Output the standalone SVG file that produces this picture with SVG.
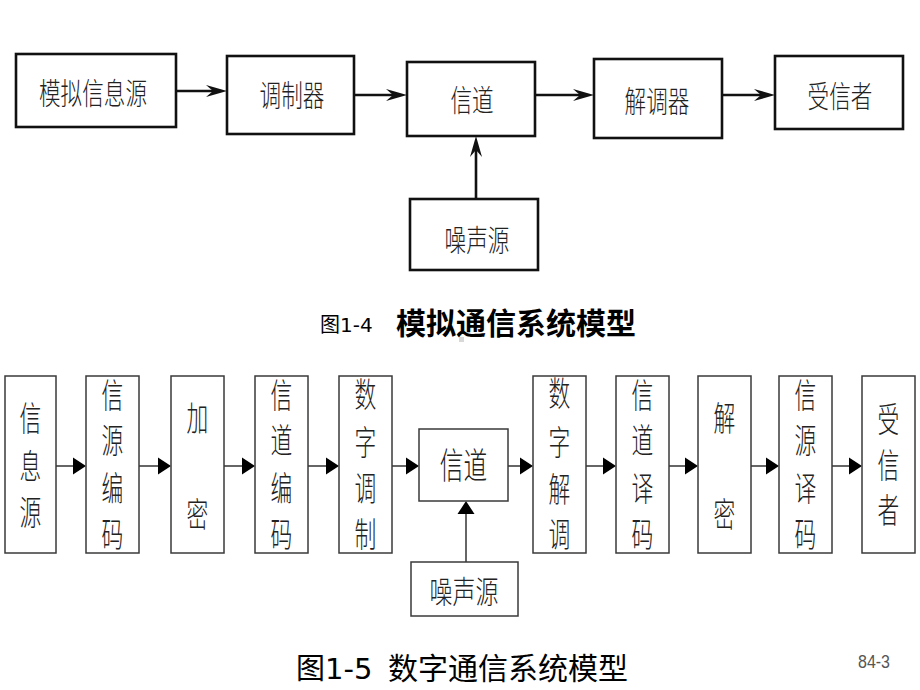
<svg xmlns="http://www.w3.org/2000/svg" width="920" height="690" viewBox="0 0 920 690">
<defs>
<style>
.b1{fill:#fff;stroke:#111;stroke-width:2.6}
.b2{fill:#fff;stroke:#3a3a3a;stroke-width:1.5}
.c1{fill:none;stroke:#111;stroke-width:2.6}
.c2{fill:none;stroke:#333;stroke-width:1.5}
.t{font-family:"Noto Sans CJK SC","Noto Sans CJK JP",sans-serif;font-weight:300;fill:#222;text-anchor:middle;dominant-baseline:central}
.t1{font-size:30px}
.t2{font-size:34px}
.cap{font-family:"DejaVu Sans","Noto Sans CJK SC",sans-serif;fill:#000}
</style>
<marker id="ah1" markerUnits="userSpaceOnUse" viewBox="-22 -8 24 16" markerWidth="24" markerHeight="16" refX="-12" refY="0" orient="auto">
<path d="M0,0 L-21,-6 L-14,0 L-21,6 Z" fill="#111"/>
</marker>
<marker id="ah2" markerUnits="userSpaceOnUse" viewBox="-14 -9 16 18" markerWidth="16" markerHeight="18" refX="-11" refY="0" orient="auto">
<path d="M0,0 L-13,-8.5 L-13,8.5 Z" fill="#000"/>
</marker>
</defs>
<rect width="920" height="690" fill="#fff"/>

<g id="connectors">
<path class="c1" d="M176,91 H215" marker-end="url(#ah1)"/>
<path class="c1" d="M354,95 H395" marker-end="url(#ah1)"/>
<path class="c1" d="M535,95 H582" marker-end="url(#ah1)"/>
<path class="c1" d="M722,95 H763" marker-end="url(#ah1)"/>
<path class="c1" d="M476,199 V148" marker-end="url(#ah1)"/>

<path class="c2" d="M56,466 H75" marker-end="url(#ah2)"/>
<path class="c2" d="M139,466 H160" marker-end="url(#ah2)"/>
<path class="c2" d="M224,466 H244" marker-end="url(#ah2)"/>
<path class="c2" d="M308,466 H328" marker-end="url(#ah2)"/>
<path class="c2" d="M392,466 H408" marker-end="url(#ah2)"/>
<path class="c2" d="M508,466 H522" marker-end="url(#ah2)"/>
<path class="c2" d="M586,466 H605" marker-end="url(#ah2)"/>
<path class="c2" d="M669,466 H687" marker-end="url(#ah2)"/>
<path class="c2" d="M751,466 H768" marker-end="url(#ah2)"/>
<path class="c2" d="M832,466 H851" marker-end="url(#ah2)"/>
<path class="c2" d="M466,562 V512" marker-end="url(#ah2)"/>
</g>

<g id="a_source"><rect class="b1" x="16" y="54" width="160" height="73"/><text class="t t1" transform="translate(93,91) scale(0.72,1)">模拟信息源</text></g>
<g id="a_mod"><rect class="b1" x="227" y="56" width="127" height="78"/><text class="t t1" transform="translate(292,93) scale(0.72,1)">调制器</text></g>
<g id="a_channel"><rect class="b1" x="407" y="62" width="128" height="74"/><text class="t t1" transform="translate(472,98) scale(0.72,1)">信道</text></g>
<g id="a_demod"><rect class="b1" x="594" y="59" width="128" height="79"/><text class="t t1" transform="translate(657,99) scale(0.72,1)">解调器</text></g>
<g id="a_sink"><rect class="b1" x="775" y="56" width="128" height="73"/><text class="t t1" transform="translate(840,94) scale(0.72,1)">受信者</text></g>
<g id="a_noise"><rect class="b1" x="410" y="199" width="128" height="71"/><text class="t t1" transform="translate(477,238) scale(0.72,1)">噪声源</text></g>

<g id="cap1">
<text class="cap" x="320" y="332" font-size="20">图1-4</text>
<text class="cap" x="396" y="334" font-size="30" font-weight="bold" font-family="Noto Sans CJK SC, sans-serif">模拟通信系统模型</text>
</g>
<rect x="459" y="337" width="5" height="5" fill="#d8d8d8"/>

<g id="d_source"><rect class="b2" x="5" y="376" width="51" height="177"/>
<g class="t t2"><text transform="translate(30.5,416) scale(0.64,1)">信</text><text transform="translate(30.5,464) scale(0.64,1)">息</text><text transform="translate(30.5,510) scale(0.64,1)">源</text></g></g>
<g id="d_srcenc"><rect class="b2" x="86" y="376" width="53" height="177"/>
<g class="t t2"><text transform="translate(112.5,393) scale(0.64,1)">信</text><text transform="translate(112.5,438) scale(0.64,1)">源</text><text transform="translate(112.5,486) scale(0.64,1)">编</text><text transform="translate(112.5,532) scale(0.64,1)">码</text></g></g>
<g id="d_encrypt"><rect class="b2" x="171" y="376" width="53" height="177"/>
<g class="t t2"><text transform="translate(197.5,416) scale(0.64,1)">加</text><text transform="translate(197.5,512) scale(0.64,1)">密</text></g></g>
<g id="d_chenc"><rect class="b2" x="255" y="376" width="53" height="177"/>
<g class="t t2"><text transform="translate(281.5,393) scale(0.64,1)">信</text><text transform="translate(281.5,438) scale(0.64,1)">道</text><text transform="translate(281.5,486) scale(0.64,1)">编</text><text transform="translate(281.5,532) scale(0.64,1)">码</text></g></g>
<g id="d_mod"><rect class="b2" x="339" y="376" width="53" height="177"/>
<g class="t t2"><text transform="translate(365.5,392) scale(0.64,1)">数</text><text transform="translate(365.5,440) scale(0.64,1)">字</text><text transform="translate(365.5,486) scale(0.64,1)">调</text><text transform="translate(365.5,532) scale(0.64,1)">制</text></g></g>
<g id="d_channel"><rect class="b2" x="419" y="429" width="89" height="72"/>
<text class="t" font-size="36" transform="translate(463.5,464) scale(0.66,1)">信道</text></g>
<g id="d_demod"><rect class="b2" x="533" y="376" width="53" height="177"/>
<g class="t t2"><text transform="translate(559.5,391) scale(0.64,1)">数</text><text transform="translate(559.5,440) scale(0.64,1)">字</text><text transform="translate(559.5,487) scale(0.64,1)">解</text><text transform="translate(559.5,532) scale(0.64,1)">调</text></g></g>
<g id="d_chdec"><rect class="b2" x="616" y="376" width="53" height="177"/>
<g class="t t2"><text transform="translate(642.5,393) scale(0.64,1)">信</text><text transform="translate(642.5,438) scale(0.64,1)">道</text><text transform="translate(642.5,486) scale(0.64,1)">译</text><text transform="translate(642.5,532) scale(0.64,1)">码</text></g></g>
<g id="d_decrypt"><rect class="b2" x="698" y="376" width="53" height="177"/>
<g class="t t2"><text transform="translate(724.5,416) scale(0.64,1)">解</text><text transform="translate(724.5,512) scale(0.64,1)">密</text></g></g>
<g id="d_srcdec"><rect class="b2" x="779" y="376" width="53" height="177"/>
<g class="t t2"><text transform="translate(805.5,393) scale(0.64,1)">信</text><text transform="translate(805.5,438) scale(0.64,1)">源</text><text transform="translate(805.5,486) scale(0.64,1)">译</text><text transform="translate(805.5,532) scale(0.64,1)">码</text></g></g>
<g id="d_sink"><rect class="b2" x="862" y="376" width="53" height="177"/>
<g class="t t2"><text transform="translate(888.5,417) scale(0.64,1)">受</text><text transform="translate(888.5,463) scale(0.64,1)">信</text><text transform="translate(888.5,508) scale(0.64,1)">者</text></g></g>
<g id="d_noise"><rect class="b2" x="411" y="562" width="107" height="54"/>
<text class="t" font-size="31" transform="translate(464,589) scale(0.74,1)">噪声源</text></g>

<g id="cap2">
<text class="cap" x="296" y="679" font-size="29">图1-5</text>
<text class="cap" x="388" y="679" font-size="30" font-family="Noto Sans CJK SC, sans-serif">数字通信系统模型</text>
</g>
<text x="858" y="668" font-family="Liberation Sans, sans-serif" font-size="18" fill="#555" textLength="32" lengthAdjust="spacingAndGlyphs">84-3</text>
</svg>
